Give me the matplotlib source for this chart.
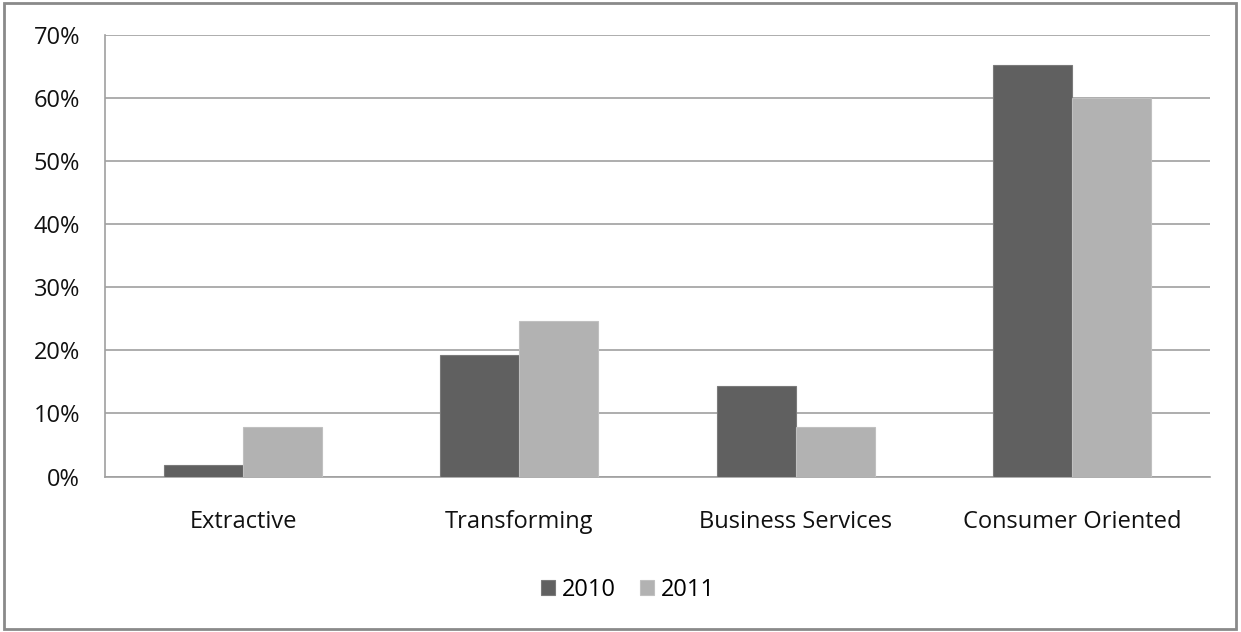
import numpy as np
import matplotlib.pyplot as plt
from matplotlib.patches import Rectangle
from matplotlib.ticker import PercentFormatter

# Share of activity by sector
sectors = ["Extractive", "Transforming", "Business Services", "Consumer Oriented"]
share_2010 = [1.8, 19.3, 14.3, 65.2]
share_2011 = [7.8, 24.6, 7.8, 60.0]

plt.rcParams['font.family'] = ['Open Sans', 'DejaVu Sans']
FS = 17

fig = plt.figure(figsize=(12.41, 6.32), dpi=100)
ax = fig.add_axes([0.0846, 0.246, 0.8904, 0.6994])

x = np.arange(len(sectors))
width = 1 / 3.5  # two bars plus a 150% gap
ax.bar(x - width / 2, share_2010, width, color="#606060", edgecolor="#7a7a7a",
       linewidth=0.8, label="2010", zorder=3)
ax.bar(x + width / 2, share_2011, width, color="#b2b2b2", edgecolor="#c0c0c0",
       linewidth=0.8, label="2011", zorder=3)

ax.set_xlim(-0.5, len(sectors) - 0.5)
ax.set_ylim(0, 70)
ax.set_yticks(range(0, 71, 10))
ax.yaxis.set_major_formatter(PercentFormatter(decimals=0))
ax.set_xticks(x)
ax.set_xticklabels(sectors)
ax.tick_params(axis='both', length=0, labelsize=FS, colors="#111111")
ax.tick_params(axis='y', pad=18)
ax.tick_params(axis='x', pad=24)

ax.grid(axis='y', color="#a0a0a0", linewidth=1.2, zorder=0)
for side in ["top", "right"]:
    ax.spines[side].set_visible(False)
for side in ["left", "bottom"]:
    ax.spines[side].set_color("#a0a0a0")
    ax.spines[side].set_linewidth(1.2)

fig.legend(loc="center", bbox_to_anchor=(0.506, 1 - 590 / 632), ncol=2,
           frameon=False, fontsize=FS, handlelength=0.6, handleheight=0.6,
           handletextpad=0.3, columnspacing=1.0)

# outer frame around the chart
fig.patches.append(Rectangle((0.003, 0.005), 0.993, 0.99, transform=fig.transFigure,
                             fill=False, edgecolor="#8a8a8a", linewidth=2))

fig.savefig("out.png", dpi=100)
